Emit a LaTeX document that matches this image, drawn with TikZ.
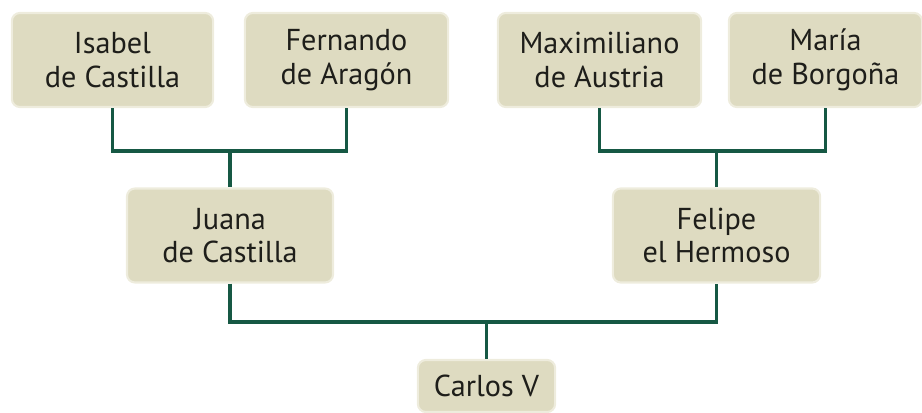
\documentclass[tikz,border=0pt]{standalone}
\usepackage{fontspec}
\setmainfont{PT Sans}
\definecolor{caja}{RGB}{222,219,193}
\definecolor{borde}{RGB}{238,236,221}
\definecolor{rama}{RGB}{22,88,68}
\definecolor{texto}{RGB}{30,30,26}
\begin{document}
\begin{tikzpicture}[x=0.025cm,y=-0.025cm,line cap=butt,line join=miter,
    persona/.style={draw=borde,line width=1.5pt,fill=caja,rounded corners=0.2cm,
      align=center,text=texto,font=\fontsize{21.5}{24}\selectfont,
      minimum height=2.35cm,inner sep=0pt},
    rama/.style={draw=rama,line width=2.3pt}]
  \useasboundingbox (0,0) rectangle (922,413);
  \node[persona,minimum width=5.03cm] (isabel) at (112.5,60) {Isabel\\de Castilla};
  \node[persona,minimum width=5.08cm] (fernando) at (346.5,60) {Fernando\\de Aragón};
  \node[persona,minimum width=5.08cm] (maximiliano) at (599.5,60) {Maximiliano\\de Austria};
  \node[persona,minimum width=4.83cm] (maria) at (825.5,60) {María\\de Borgoña};
  \node[persona,minimum width=5.15cm] (juana) at (230,235.5) {Juana\\de Castilla};
  \node[persona,minimum width=5.18cm] (felipe) at (716.5,235.5) {Felipe\\el Hermoso};
  \node[persona,minimum width=3.43cm,minimum height=1.3cm] (carlos) at (486.5,386) {Carlos V};
  \coordinate (union1) at (juana.north |- 0,151);
  \coordinate (union2) at (felipe.north |- 0,151);
  \coordinate (union3) at (carlos.north |- 0,322);
  \draw[rama] (isabel.south) |- (union1) -| (fernando.south);
  \draw[rama] (union1) -- (juana.north);
  \draw[rama] (maximiliano.south) |- (union2) -| (maria.south);
  \draw[rama] (union2) -- (felipe.north);
  \draw[rama] (juana.south) |- (union3) -| (felipe.south);
  \draw[rama] (union3) -- (carlos.north);
\end{tikzpicture}
\end{document}
